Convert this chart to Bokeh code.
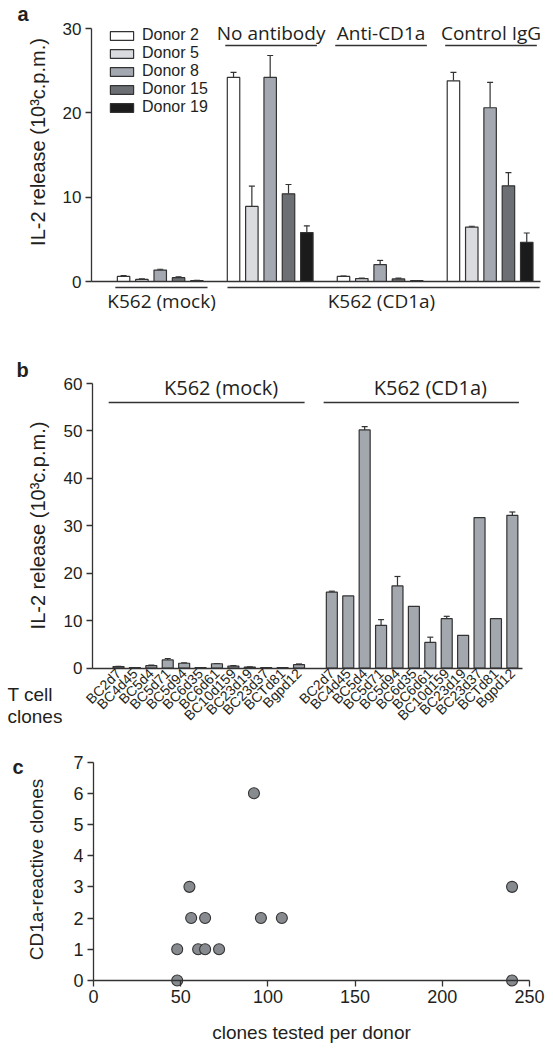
import math
from bokeh.plotting import figure
from bokeh.models import (ColumnDataSource, Range1d, FixedTicker, Label, Legend,
                          LegendItem, Whisker, TeeHead)
from bokeh.layouts import column
from bokeh.embed import file_html
from bokeh.resources import INLINE

# ---------------- Panel a data ----------------
donors = ["Donor 2", "Donor 5", "Donor 8", "Donor 15", "Donor 19"]
conditions_a = ["K562 (mock)", "No antibody", "Anti-CD1a", "Control IgG"]
targets_a = ["K562 (mock)", "K562 (CD1a)"]
mock_a = [0.6, 0.25, 1.35, 0.45, 0.1]
mock_a_err = [0.1, 0.05, 0.1, 0.1, 0.05]
noab_a = [24.2, 8.9, 24.2, 10.4, 5.8]
noab_a_err = [0.6, 2.4, 2.6, 1.1, 0.8]
anti_a = [0.6, 0.35, 2.0, 0.3, 0.1]
anti_a_err = [0.05, 0.05, 0.5, 0.1, 0.0]
ctrl_a = [23.8, 6.45, 20.6, 11.35, 4.65]
ctrl_a_err = [1.0, 0.1, 3.0, 1.55, 1.1]
a_yticks = [0, 10, 20, 30]

# ---------------- Panel b data ----------------
clones_b = ["BC2d7", "BC4d45", "BC5d4", "BC5d71", "BC5d94", "BC6d35",
            "BC6d61", "BC10d159", "BC23d19", "BC23d37", "BCTd81", "Bgpd12"]
targets_b = ["K562 (mock)", "K562 (CD1a)"]
mock_b = [0.3, 0.1, 0.5, 1.7, 1.0, 0.1, 0.9, 0.4, 0.2, 0.1, 0.1, 0.7]
mock_b_err = [0.05, 0.0, 0.1, 0.3, 0.1, 0.0, 0.05, 0.1, 0.05, 0.0, 0.0, 0.15]
cd1a_b = [16.0, 15.2, 50.2, 9.0, 17.3, 13.0, 5.4, 10.4, 6.9, 31.7, 10.4, 32.2]
cd1a_b_err = [0.2, 0.0, 0.7, 1.2, 2.0, 0.0, 1.1, 0.5, 0.0, 0.0, 0.0, 0.7]
b_yticks = [0, 10, 20, 30, 40, 50, 60]

# ---------------- Panel c data ----------------
clones_tested = [48, 48, 55, 56, 64, 60, 64, 72, 92, 96, 108, 240, 240]
reactive_clones = [0, 1, 3, 2, 2, 1, 1, 1, 6, 2, 2, 3, 0]
c_xticks = [0, 50, 100, 150, 200, 250]
c_yticks = [0, 1, 2, 3, 4, 5, 6, 7]

# ---------------- styles ----------------
FONT = "Liberation Sans"
HEAD = "Open Sans"
AX = "#333333"
TXT = "#231f20"
donor_colors = ["#ffffff", "#d9dbdf", "#a4a8b1", "#6c7074", "#1b1b1b"]
BAR_B = "#a3a7ae"
DOT = "#878b90"
W = 553
BASE_FIX = 6  # px lift applied to alphabetic-baseline labels


class Panel:
    """Figure whose frame fills the whole figure; axes sit at fixed locations."""

    def __init__(self, top, height, L, R, T, B, xr, yr):
        self.top, self.height = top, height
        self.L, self.R, self.T, self.B = L, R, T, B
        self.xr, self.yr = xr, yr
        x_lo, x_hi = self.ux(0), self.ux(W)
        y_lo, y_hi = self.uy(top + height), self.uy(top)
        p = figure(width=W, height=height, output_backend="svg",
                   toolbar_location=None, x_range=Range1d(x_lo, x_hi),
                   y_range=Range1d(y_lo, y_hi), min_border=0,
                   min_border_left=0, min_border_right=0, min_border_top=0,
                   min_border_bottom=0)
        p.outline_line_color = None
        p.xgrid.visible = False
        p.ygrid.visible = False
        p.background_fill_color = "white"
        p.border_fill_color = "white"
        for ax in (p.xaxis[0], p.yaxis[0]):
            ax.axis_line_color = AX
            ax.axis_line_width = 1.3
            ax.major_tick_line_color = AX
            ax.major_tick_line_width = 1.3
            ax.major_tick_in = 0
            ax.major_tick_out = 6
            ax.minor_tick_line_color = None
            ax.major_label_text_font = FONT
            ax.major_label_text_color = TXT
        p.xaxis.fixed_location = yr[0]
        p.xaxis.bounds = tuple(xr)
        p.yaxis.fixed_location = xr[0]
        p.yaxis.bounds = tuple(yr)
        self.p = p

    def ux(self, wx):
        x0, x1 = self.xr
        return x0 + (wx - self.L) * (x1 - x0) / (self.R - self.L)

    def uy(self, wy):
        y0, y1 = self.yr
        return y0 + (self.B - wy) * (y1 - y0) / (self.B - self.T)

    def text(self, s, wx, wy, size, font=FONT, align="center",
             baseline="middle", angle=0.0, bold=False):
        if baseline == "alphabetic":
            wy -= BASE_FIX
        self.p.add_layout(Label(x=self.ux(wx), y=self.uy(wy), text=s,
                                text_font=font, text_font_size=size,
                                text_color=TXT, text_align=align,
                                text_baseline=baseline, angle=angle,
                                text_font_style="bold" if bold else "normal"))

    def dtext(self, s, x, wy, size, font=HEAD):
        self.p.add_layout(Label(x=x, y=self.uy(wy - BASE_FIX), text=s,
                                text_font=font, text_font_size=size,
                                text_color=TXT, text_align="center",
                                text_baseline="alphabetic"))

    def line(self, x0, x1, y, lw=1.5):
        self.p.segment(x0=[x0], y0=[y], x1=[x1], y1=[y], line_color=AX,
                       line_width=lw)


def whiskers(p, xs, vals, errs):
    sx = [x for x, e in zip(xs, errs) if e > 0]
    lo = [v for v, e in zip(vals, errs) if e > 0]
    hi = [v + e for v, e in zip(vals, errs) if e > 0]
    p.add_layout(Whisker(source=ColumnDataSource(dict(x=sx, lo=lo, hi=hi)),
                         base="x", lower="lo", upper="hi", lower_head=None,
                         upper_head=TeeHead(size=6, line_color=AX, line_width=1.2),
                         line_color=AX, line_width=1.2))


# =============== Panel a ===============
A = Panel(0, 330, 91, 540, 28, 281, (-1.75, 22.75), (0, 30))
pa = A.p
pa.yaxis.ticker = FixedTicker(ticks=a_yticks)
pa.yaxis.major_label_text_font_size = "17px"
pa.yaxis.major_label_standoff = 4
pa.xaxis.ticker = FixedTicker(ticks=[])
pa.xaxis.major_tick_out = 0

groups_a = [mock_a, noab_a, anti_a, ctrl_a]
errs_a = [mock_a_err, noab_a_err, anti_a_err, ctrl_a_err]
items = []
wx_, wv_, we_ = [], [], []
for d, name in enumerate(donors):
    xs = [6 * g + d for g in range(len(groups_a))]
    tops = [grp[d] for grp in groups_a]
    r = pa.vbar(x=xs, top=tops, bottom=0, width=0.68,
                fill_color=donor_colors[d], line_color=AX, line_width=1.2)
    items.append(LegendItem(label=name, renderers=[r]))
    wx_ += xs
    wv_ += tops
    we_ += [e[d] for e in errs_a]
whiskers(pa, wx_, wv_, we_)

legend = Legend(items=items, location=(107, 330 - 116), orientation="vertical",
                padding=0, margin=0, spacing=0, glyph_width=29, glyph_height=11,
                label_height=18, label_standoff=6, label_text_font=FONT,
                label_text_font_size="16px", label_text_color=TXT,
                background_fill_alpha=0, border_line_alpha=0)
pa.add_layout(legend)

for g in range(1, len(conditions_a)):
    A.line(6 * g - 0.45, 6 * g + 4.55, A.uy(45))
    A.dtext(conditions_a[g], 6 * g + 2.05, 38.5, "19px")
A.line(-0.45, 4.58, A.uy(287))
A.line(5.67, 22.7, A.uy(287))
A.dtext(targets_a[0], 2.07, 306, "19px")
A.dtext(targets_a[1], 14.07, 306, "19px")
A.text("IL-2 release (10³c.p.m.)", 37.5, 141.5, "20px", angle=math.pi / 2)
A.text("a", 17, 19, "20px", align="left", baseline="alphabetic", bold=True)

# =============== Panel b ===============
Bp = Panel(330, 415, 92, 521.7, 383, 667.5, (-1.585, 24.6), (0, 60))
pb = Bp.p
pb.yaxis.ticker = FixedTicker(ticks=b_yticks)
pb.yaxis.major_label_text_font_size = "17px"
pb.yaxis.major_label_standoff = 4

xs_mock = list(range(len(clones_b)))
xs_cd1a = [13 + i for i in range(len(clones_b))]
all_x = xs_mock + xs_cd1a
all_v = mock_b + cd1a_b
all_e = mock_b_err + cd1a_b_err
pb.vbar(x=all_x, top=all_v, bottom=0, width=0.67, fill_color=BAR_B,
        line_color=AX, line_width=1.2)
whiskers(pb, all_x, all_v, all_e)

pb.xaxis.ticker = FixedTicker(ticks=all_x)
pb.xaxis.major_label_overrides = {x: n for x, n in zip(all_x, clones_b + clones_b)}
pb.xaxis.major_label_orientation = math.pi / 4
pb.xaxis.major_tick_out = 0
pb.xaxis.major_label_standoff = 3
pb.xaxis.major_label_text_font_size = "14px"

Bp.line(-0.6, 11.34, Bp.uy(402))
Bp.line(12.5, 24.4, Bp.uy(402))
Bp.dtext(targets_b[0], 6.25, 393.3, "20px")
Bp.dtext(targets_b[1], 19.0, 393.3, "20px")
Bp.text("IL-2 release (10³c.p.m.)", 37, 525, "20px", angle=math.pi / 2)
Bp.text("b", 16, 375, "20px", align="left", baseline="alphabetic", bold=True)
Bp.text("T cell", 7, 700, "19px", align="left", baseline="alphabetic")
Bp.text("clones", 7, 722, "19px", align="left", baseline="alphabetic")

# =============== Panel c ===============
C = Panel(745, 305, 93, 529, 761.5, 980, (0, 250), (0, 7))
pc = C.p
pc.xaxis.ticker = FixedTicker(ticks=c_xticks)
pc.yaxis.ticker = FixedTicker(ticks=c_yticks)
pc.xaxis.major_label_text_font_size = "18px"
pc.yaxis.major_label_text_font_size = "18px"
pc.xaxis.major_label_standoff = 3
pc.yaxis.major_label_standoff = 4
pc.scatter(x=clones_tested, y=reactive_clones, size=11, fill_color=DOT,
           line_color=AX, line_width=1.1)
C.text("CD1a-reactive clones", 36, 869, "19px", angle=math.pi / 2)
C.text("clones tested per donor", 311, 1038, "19px", baseline="alphabetic")
C.text("c", 12, 772, "20px", align="left", baseline="alphabetic", bold=True)

page = column(pa, pb, pc, spacing=0)
with open("out.html", "w") as f:
    f.write(file_html(page, INLINE))
